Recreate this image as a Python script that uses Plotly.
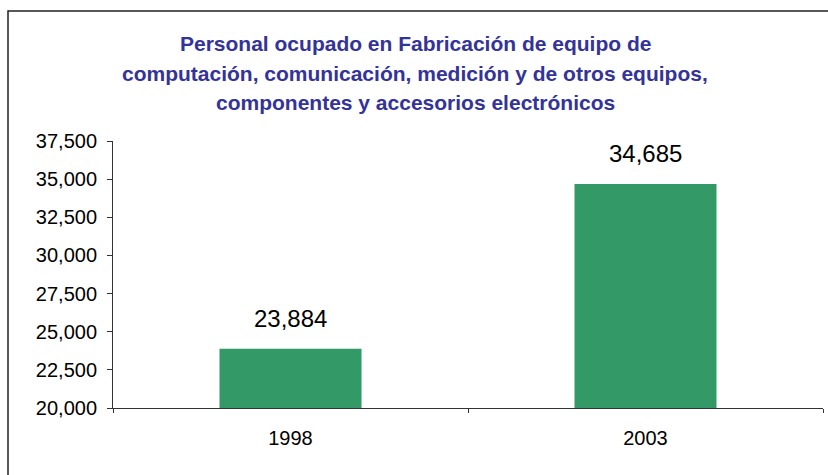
import plotly.graph_objects as go

years = ["1998", "2003"]
values = [23884, 34685]
y_ticks = [20000, 22500, 25000, 27500, 30000, 32500, 35000, 37500]
title_lines = [
    "Personal ocupado en Fabricación de equipo de",
    "computación, comunicación, medición y de otros equipos,",
    "componentes y accesorios electrónicos",
]

FONT = "Arial, Liberation Sans, sans-serif"

fig = go.Figure()
fig.add_trace(go.Bar(
    x=years, y=values,
    marker=dict(color="#339966", line=dict(width=0)),
    hoverinfo="skip",
))

for i, v in enumerate(values):
    fig.add_annotation(
        x=i, y=v, xref="x", yref="y",
        text=f"{v:,}", showarrow=False,
        yanchor="middle", yshift=30,
        font=dict(family=FONT, size=24, color="black"),
    )

title_y_px = [43, 73, 102]
for line, ypx in zip(title_lines, title_y_px):
    fig.add_annotation(
        x=(415 - 113) / 710, y=(408 - ypx) / 267, xref="paper", yref="paper",
        text=f"<b>{line}</b>", showarrow=False,
        xanchor="center", yanchor="middle",
        font=dict(family=FONT, size=21, color="#333399"),
    )

# outer frame
fig.add_shape(
    type="rect", xref="paper", yref="paper",
    x0=(8 - 113) / 710, x1=1.05, y0=-0.4, y1=(408 - 11) / 267,
    line=dict(color="#222222", width=1.5), fillcolor="rgba(0,0,0,0)",
    layer="below",
)

fig.update_layout(
    width=828, height=475,
    margin=dict(l=113, r=5, t=141, b=67, autoexpand=False),
    paper_bgcolor="white", plot_bgcolor="white",
    showlegend=False,
    bargap=0.6,
    font=dict(family=FONT, color="black"),
    xaxis=dict(
        type="category",
        range=[-0.5, 1.5],
        showline=True, linecolor="#333333", linewidth=1,
        ticks="outside", tickson="boundaries", ticklen=4, tickcolor="#333333",
        tickfont=dict(size=20, color="black"),
        ticklabelstandoff=12,
        tickangle=0,
        showgrid=False, zeroline=False,
    ),
    yaxis=dict(
        range=[20000, 37500],
        tickvals=y_ticks,
        ticktext=[f"{t:,}" for t in y_ticks],
        showline=True, linecolor="#333333", linewidth=1,
        ticks="outside", ticklen=5, tickcolor="#333333",
        tickfont=dict(size=20, color="black"),
        ticklabelstandoff=6,
        showgrid=False, zeroline=False,
    ),
)

fig.write_html("out.html", config={"displayModeBar": False},
               post_script="document.body.style.margin='0';")
